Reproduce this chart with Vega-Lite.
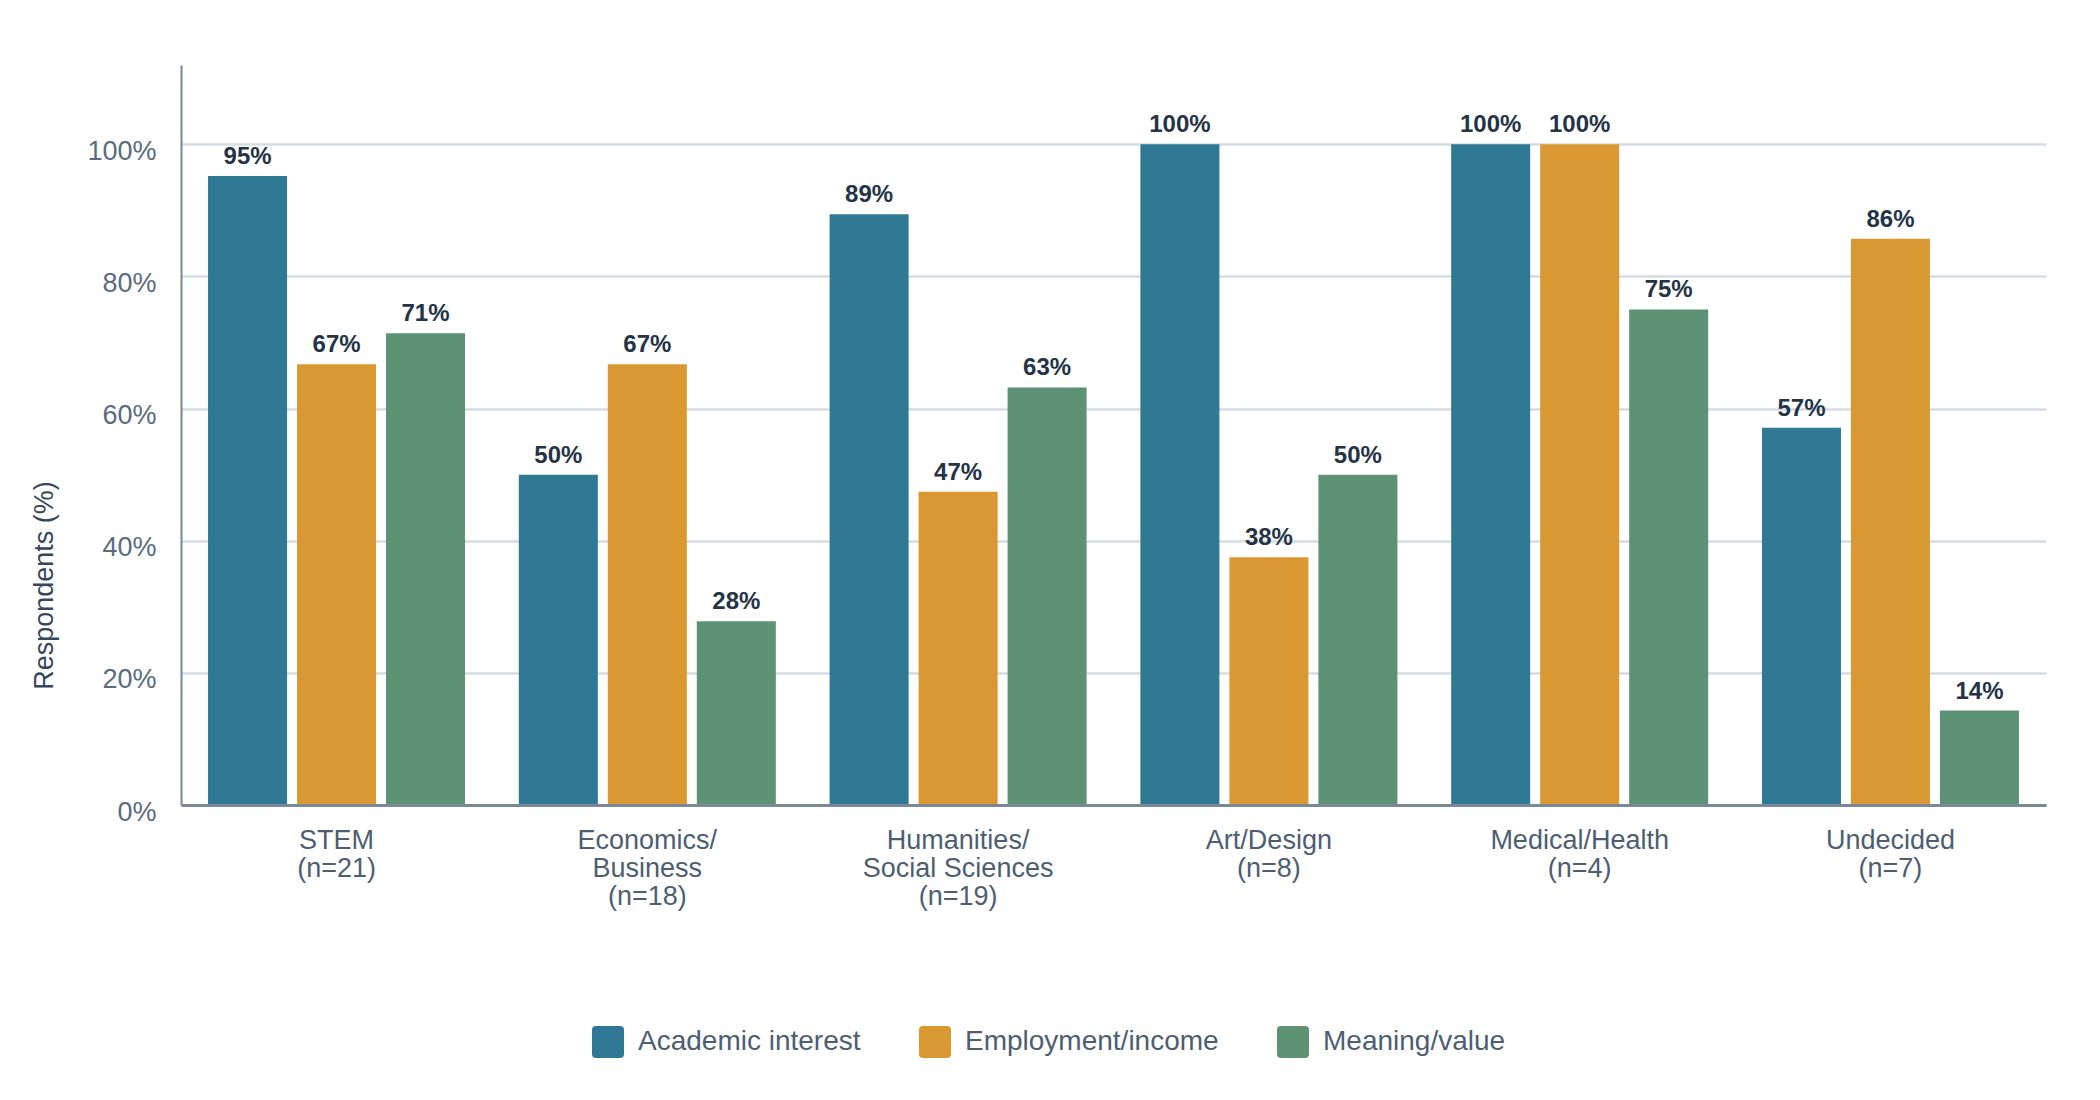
{
  "$schema": "https://vega.github.io/schema/vega-lite/v6.json",
  "description": "Reasons for choosing a major, by intended field of study",
  "width": 1865,
  "height": 740,
  "autosize": {"type": "none"},
  "padding": {"left": 181, "top": 65, "right": 54, "bottom": 295},
  "background": "white",
  "config": {
    "view": {"stroke": null},
    "font": "Liberation Sans"
  },
  "data": {
    "values": [
      {"major": "STEM|(n=21)", "reason": "Academic interest", "value": 95.2},
      {"major": "STEM|(n=21)", "reason": "Employment/income", "value": 66.7},
      {"major": "STEM|(n=21)", "reason": "Meaning/value", "value": 71.4},
      {"major": "Economics/|Business|(n=18)", "reason": "Academic interest", "value": 50},
      {"major": "Economics/|Business|(n=18)", "reason": "Employment/income", "value": 66.7},
      {"major": "Economics/|Business|(n=18)", "reason": "Meaning/value", "value": 27.8},
      {"major": "Humanities/|Social Sciences|(n=19)", "reason": "Academic interest", "value": 89.4},
      {"major": "Humanities/|Social Sciences|(n=19)", "reason": "Employment/income", "value": 47.4},
      {"major": "Humanities/|Social Sciences|(n=19)", "reason": "Meaning/value", "value": 63.2},
      {"major": "Art/Design|(n=8)", "reason": "Academic interest", "value": 100},
      {"major": "Art/Design|(n=8)", "reason": "Employment/income", "value": 37.5},
      {"major": "Art/Design|(n=8)", "reason": "Meaning/value", "value": 50},
      {"major": "Medical/Health|(n=4)", "reason": "Academic interest", "value": 100},
      {"major": "Medical/Health|(n=4)", "reason": "Employment/income", "value": 100},
      {"major": "Medical/Health|(n=4)", "reason": "Meaning/value", "value": 75},
      {"major": "Undecided|(n=7)", "reason": "Academic interest", "value": 57.1},
      {"major": "Undecided|(n=7)", "reason": "Employment/income", "value": 85.7},
      {"major": "Undecided|(n=7)", "reason": "Meaning/value", "value": 14.3}
    ]
  },
  "transform": [
    {"calculate": "format(datum.value, '.0f') + '%'", "as": "label"}
  ],
  "encoding": {
    "x": {
      "field": "major",
      "type": "nominal",
      "sort": null,
      "scale": {"paddingInner": 0.173, "paddingOuter": 0.087},
      "axis": {
        "title": null,
        "labelExpr": "split(datum.value, '|')",
        "labelAngle": 0,
        "labelFontSize": 27,
        "labelLineHeight": 28,
        "labelLimit": 600,
        "labelColor": "#4d5e72",
        "labelPadding": 22,
        "labelBaseline": "top",
        "ticks": false,
        "grid": false,
        "domainColor": "#7a8898",
        "domainWidth": 3,
        "zindex": 1
      }
    },
    "xOffset": {
      "field": "reason",
      "type": "nominal",
      "scale": {
        "domain": ["Academic interest", "Employment/income", "Meaning/value"],
        "paddingInner": 0.112,
        "paddingOuter": 0
      }
    },
    "y": {
      "field": "value",
      "type": "quantitative",
      "scale": {"domain": [0, 112], "nice": false},
      "axis": {
        "title": "Respondents (%)",
        "values": [0, 20, 40, 60, 80, 100],
        "labelExpr": "datum.value + '%'",
        "labelFontSize": 27,
        "labelColor": "#5a6b7e",
        "labelPadding": 25,
        "labelBaseline": "middle",
        "labelOffset": 7,
        "ticks": false,
        "grid": true,
        "gridColor": "#d5dde4",
        "gridWidth": 2.5,
        "domainColor": "#7a8898",
        "domainWidth": 2,
        "titleFontSize": 27,
        "titleFontWeight": "normal",
        "titleColor": "#34475b",
        "titleAngle": -90,
        "titleAlign": "center",
        "titleBaseline": "bottom",
        "titleX": -123,
        "titleY": 520
      }
    }
  },
  "layer": [
    {
      "mark": {"type": "bar"},
      "encoding": {
        "color": {
          "field": "reason",
          "type": "nominal",
          "scale": {
            "domain": ["Academic interest", "Employment/income", "Meaning/value"],
            "range": ["#2f7995", "#d99832", "#5d9274"]
          },
          "legend": {
            "title": null,
            "orient": "none",
            "legendX": 411,
            "legendY": 961,
            "direction": "horizontal",
            "symbolType": "M-0.75,-1H0.75Q1,-1 1,-0.75V0.75Q1,1 0.75,1H-0.75Q-1,1 -1,0.75V-0.75Q-1,-1 -0.75,-1Z",
            "symbolSize": 1024,
            "symbolStrokeWidth": 0,
            "symbolOpacity": 1,
            "labelFontSize": 28,
            "labelColor": "#4d5e72",
            "labelOffset": 14,
            "labelLimit": 400,
            "columnPadding": 58,
            "padding": 0
          }
        }
      }
    },
    {
      "mark": {
        "type": "text",
        "baseline": "alphabetic",
        "dy": -12,
        "fontSize": 24,
        "fontWeight": "bold",
        "fill": "#243446"
      },
      "encoding": {
        "text": {"field": "label", "type": "nominal"}
      }
    }
  ]
}
